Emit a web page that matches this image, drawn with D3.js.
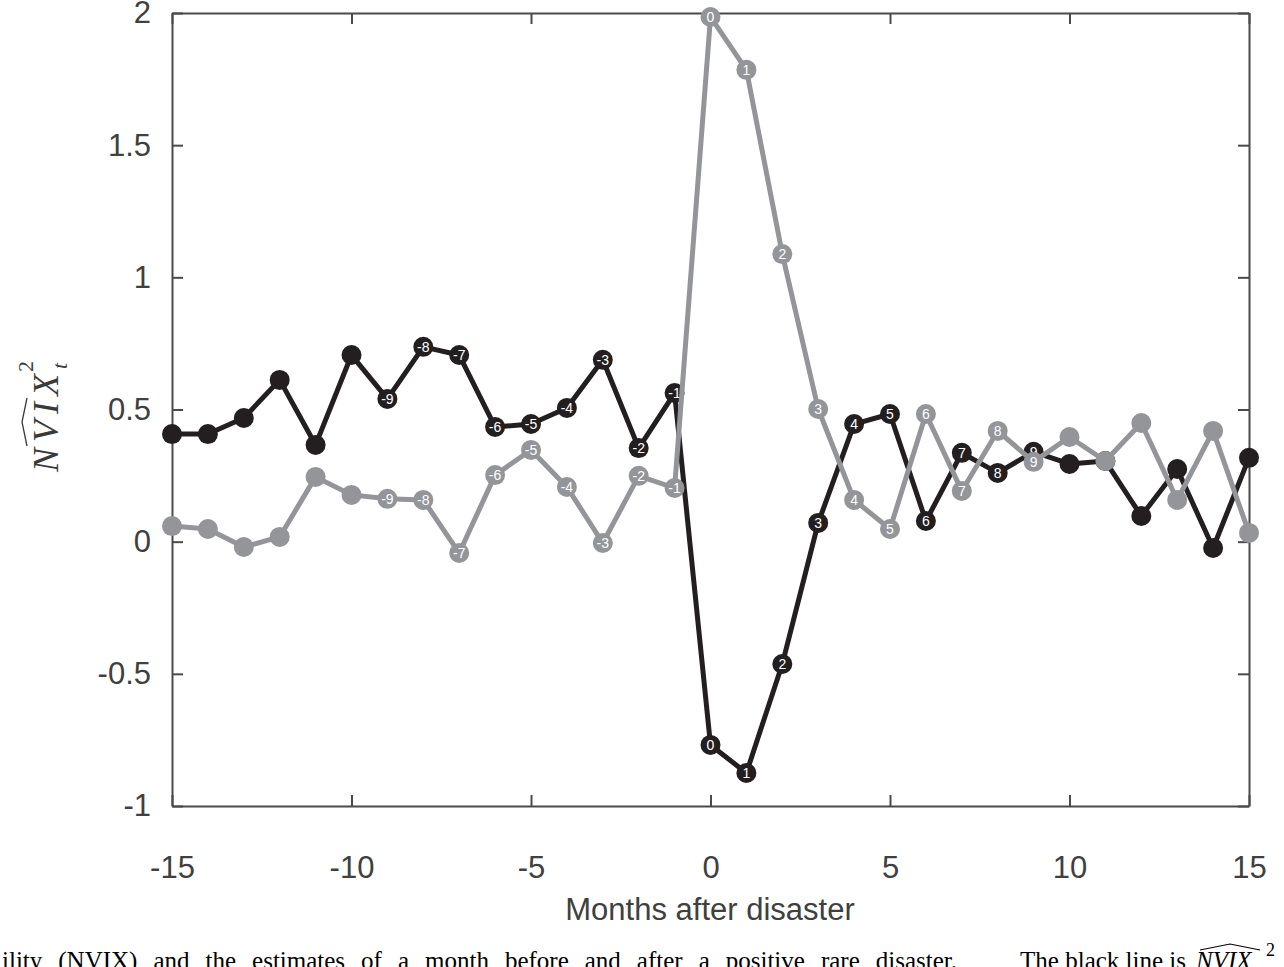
<!DOCTYPE html>
<html lang="en">
<head>
<meta charset="utf-8">
<script src="https://cdn.jsdelivr.net/npm/d3@7"></script>
<style>
  body { margin: 0; background: #fff; }
  svg { display: block; }
</style>
</head>
<body>
<svg width="1284" height="967" id="plot"></svg>
<script>
// months after disaster
const months = d3.range(-15, 16)
// black series
const blackValues = [0.407, 0.407, 0.468, 0.612, 0.366, 0.706, 0.540, 0.737, 0.706, 0.434,
    0.445, 0.506, 0.688, 0.354, 0.562, -0.769, -0.875, -0.463, 0.071, 0.445,
    0.483, 0.078, 0.336, 0.260, 0.340, 0.294, 0.305, 0.097, 0.275, -0.024, 0.317]
// gray series
const grayValues = [0.059, 0.048, -0.020, 0.018, 0.245, 0.177, 0.162, 0.158, -0.043, 0.252,
    0.347, 0.207, -0.005, 0.249, 0.203, 1.985, 1.785, 1.088, 0.502, 0.158,
    0.048, 0.483, 0.192, 0.419, 0.302, 0.396, 0.305, 0.449, 0.158, 0.419, 0.033]
// only these months get a number in the circle
const labelledMonths = d3.range(-9, 10)
const xTicks = [-15, -10, -5, 0, 5, 10, 15]
const yTicks = [-1, -0.5, 0, 0.5, 1, 1.5, 2]

const svg = d3.select("#plot")
const axisColor = "#4a4a4a"

const x = d3.scaleLinear().domain([-15, 15]).range([172, 1249])
const y = d3.scaleLinear().domain([-1, 2]).range([806, 13])

// plain hyphen for negatives, like the original
const fmt = d => String(d)

// axes (ticks inside the box)
function styleAxis(g) {
    g.selectAll("path").attr("stroke", axisColor).attr("stroke-width", 2)
    g.selectAll("line").attr("stroke", axisColor).attr("stroke-width", 2)
    g.selectAll("text").attr("fill", "#404040")
        .style("font-family", "'Liberation Sans', Arial, sans-serif")
        .style("font-size", "31px")
}

svg.append("g").attr("transform", "translate(0,806)")
    .call(d3.axisBottom(x).tickValues(xTicks).tickSizeInner(-11).tickSizeOuter(0).tickPadding(50)
        .tickFormat(fmt))
    .call(styleAxis)

svg.append("g").attr("transform", "translate(0,13)")
    .call(d3.axisTop(x).tickValues(xTicks).tickSizeInner(-11).tickSizeOuter(0).tickFormat(""))
    .call(styleAxis)

svg.append("g").attr("transform", "translate(172,0)")
    .call(d3.axisLeft(y).tickValues(yTicks).tickSizeInner(-11).tickSizeOuter(0).tickPadding(21)
        .tickFormat(fmt))
    .call(styleAxis)

svg.append("g").attr("transform", "translate(1249,0)")
    .call(d3.axisRight(y).tickValues(yTicks).tickSizeInner(-11).tickSizeOuter(0).tickFormat(""))
    .call(styleAxis)

// x label
svg.append("text")
    .text("Months after disaster")
    .attr("x", 710).attr("y", 920)
    .attr("text-anchor", "middle")
    .attr("fill", "#404040")
    .style("font-family", "'Liberation Sans', Arial, sans-serif")
    .style("font-size", "31px")

// y label: NVIX hat, ^2 _t
const yl = svg.append("g").attr("transform", "translate(58,472) rotate(-90)")
const nvix = yl.append("text")
    .text("NVIX")
    .attr("x", 0).attr("y", 0)
    .attr("fill", "#3a3a3a")
    .style("font-family", "'Liberation Serif', 'DejaVu Serif', serif")
    .style("font-style", "italic")
    .style("font-size", "36px")
    .style("letter-spacing", "6px")
const nvixLen = nvix.node().getComputedTextLength()
yl.append("path")
    .attr("d", "M26,-31 L50,-36 L74,-31")
    .attr("fill", "none").attr("stroke", "#3a3a3a").attr("stroke-width", 1.3)
yl.append("text").text("2")
    .attr("x", nvixLen - 4).attr("y", -25)
    .attr("fill", "#3a3a3a")
    .style("font-family", "'Liberation Serif', serif")
    .style("font-size", "22px")
yl.append("text").text("t")
    .attr("x", nvixLen - 1).attr("y", 9)
    .attr("fill", "#3a3a3a")
    .style("font-family", "'Liberation Serif', serif")
    .style("font-style", "italic")
    .style("font-size", "22px")

// series
const series = [
    { name: "black", values: blackValues, color: "#231f20" },
    { name: "gray", values: grayValues, color: "#949599" }
]

const line = d3.line()
    .x(d => x(d.month))
    .y(d => y(d.value))

series.forEach(s => {
    const pts = months.map((m, i) => ({ month: m, value: s.values[i] }))
    const g = svg.append("g").attr("class", "series-" + s.name)

    g.append("path")
        .datum(pts)
        .attr("fill", "none")
        .attr("stroke", s.color)
        .attr("stroke-width", 5)
        .attr("stroke-linejoin", "round")
        .attr("d", line)

    g.selectAll("circle")
        .data(pts)
        .enter()
        .append("circle")
        .attr("cx", d => x(d.month))
        .attr("cy", d => y(d.value))
        .attr("r", 10)
        .attr("fill", s.color)

    g.selectAll("text")
        .data(pts.filter(d => labelledMonths.includes(d.month)))
        .enter()
        .append("text")
        .text(d => d.month)
        .attr("x", d => x(d.month))
        .attr("y", d => y(d.value))
        .attr("dy", "0.36em")
        .attr("text-anchor", "middle")
        .attr("fill", "#fff")
        .style("font-family", "'Liberation Sans', Arial, sans-serif")
        .style("font-size", "14px")
})

// caption line cut off by the page edge
const cap = svg.append("g")
    .style("font-family", "'Liberation Serif', 'Times New Roman', serif")
    .style("font-size", "25px")
    .attr("fill", "#000")
const capText = cap.append("text")
    .text("ility (NVIX) and the estimates of a month before and after a positive rare disaster.")
    .attr("x", 2).attr("y", 969)
// spread the words out like justified text
const natural = capText.node().getComputedTextLength()
const gaps = capText.text().split(" ").length - 1
capText.style("word-spacing", ((955 - natural) / gaps) + "px")
cap.append("text")
    .text("The black line is")
    .attr("x", 1186).attr("y", 969)
    .attr("text-anchor", "end")
cap.append("text")
    .text("NVIX")
    .attr("x", 1196).attr("y", 969)
    .style("font-style", "italic")
cap.append("path")
    .attr("d", "M1200,950 L1230,944 L1260,950")
    .attr("fill", "none").attr("stroke", "#000").attr("stroke-width", 1.2)
cap.append("text")
    .text("2")
    .attr("x", 1266).attr("y", 956)
    .style("font-size", "18px")
</script>
</body>
</html>
